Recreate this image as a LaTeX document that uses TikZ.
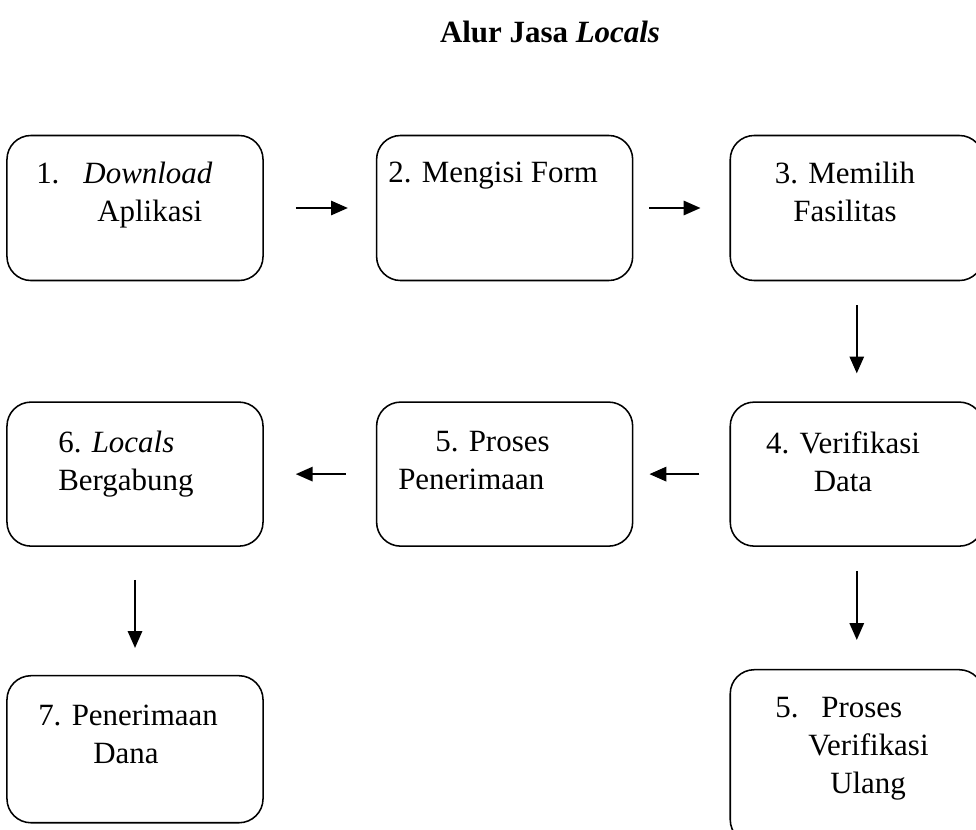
\documentclass[tikz,border=0pt]{standalone}
\usepackage{fontspec}
\setmainfont{Liberation Serif}
\usetikzlibrary{positioning, arrows.meta}

\begin{document}
\begin{tikzpicture}[x=0.025cm, y=-0.025cm,
        font=\fontsize{22}{27}\selectfont,
        stepbox/.style={draw, line width=1.1pt, rounded corners=0.6cm, minimum width=6.4cm, minimum height=3.625cm, inner sep=0},
        sidebox/.style={stepbox, minimum width=6.325cm},
        steptext/.style={inner sep=0, align=left, anchor=north west},
        arr/.style={-{Triangle[length=0.42cm, width=0.36cm]}, line width=1.2pt},
]
        \clip (0,0) rectangle (976,830);

        \node[anchor=base, font=\fontsize{22}{27}\selectfont\bfseries] (title) at (550,42) {Alur Jasa \textit{Locals}};

        \node[stepbox] (download) at (135,208) {};
        \node[stepbox] (form) [right=2.8cm of download] {};
        \node[sidebox] (fasilitas) [right=2.4cm of form] {};
        \node[sidebox, minimum height=3.6cm] (verifikasi) [below=3cm of fasilitas] {};
        \node[stepbox, minimum height=3.6cm] (penerimaan) [left=2.4cm of verifikasi] {};
        \node[stepbox, minimum height=3.6cm] (bergabung) [left=2.8cm of penerimaan] {};
        \node[stepbox, minimum height=3.675cm] (dana) [below=3.2cm of bergabung] {};
        \node[sidebox, minimum height=4.35cm] (ulang) [below=3.05cm of verifikasi] {};

        \node[steptext] (downloadtext) at (36,162) {1.\hspace{0.6cm}\textit{Download}\\\hspace*{1.525cm}Aplikasi};
        \node[steptext] (formtext) at (388,162) {2. Mengisi Form};
        \node[steptext, anchor=north, align=center] (fasilitastext) at (845,162) {3. Memilih\\Fasilitas};
        \node[steptext, anchor=north, align=center] (verifikasitext) at (843,431) {4. Verifikasi\\Data};
        \node[steptext] (penerimaantext) at (398,431) {\hspace*{0.925cm}5. Proses\\Penerimaan};
        \node[steptext] (bergabungtext) at (58,431) {6. \textit{Locals}\\Bergabung};
        \node[steptext] (danatext) at (38,705) {7. Penerimaan\\\hspace*{1.375cm}Dana};
        \node[steptext] (ulangtext) at (775,697) {5.\hspace{0.575cm}Proses\\\hspace*{0.825cm}Verifikasi\\\hspace*{1.375cm}Ulang};

        \draw[arr, shorten <=0.8cm, shorten >=0.7cm] (download) -- (form);
        \draw[arr, shorten <=0.4cm, shorten >=0.725cm] (form) -- (fasilitas);
        \draw[arr, shorten <=0.6cm, shorten >=0.7cm] (fasilitas) -- (verifikasi);
        \draw[arr, shorten <=0.75cm, shorten >=0.4cm] (verifikasi) -- (penerimaan);
        \draw[arr, shorten <=0.75cm, shorten >=0.8cm] (penerimaan) -- (bergabung);
        \draw[arr, shorten <=0.825cm, shorten >=0.675cm] (bergabung) -- (dana);
        \draw[arr, shorten <=0.6cm, shorten >=0.725cm] (verifikasi) -- (ulang);
\end{tikzpicture}
\end{document}
